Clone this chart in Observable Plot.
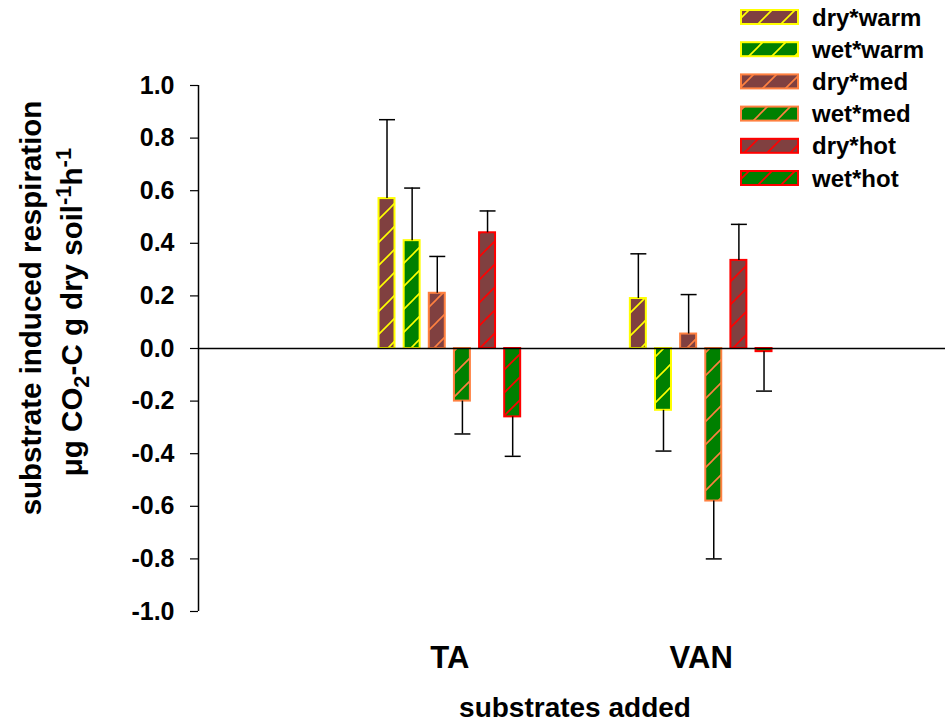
<!DOCTYPE html>
<html>
<head>
<meta charset="utf-8">
<script src="https://cdn.jsdelivr.net/npm/d3@7"></script>
<script src="https://cdn.jsdelivr.net/npm/@observablehq/plot@0.6"></script>
<style>
  html, body { margin: 0; padding: 0; background: #fff; }
  #chart { width: 945px; height: 727px; }
  svg text { font-family: Arial, "Liberation Sans", sans-serif; font-weight: bold; fill: #000; }
</style>
</head>
<body>
<div id="chart"></div>
<script>
// ---- data ----
const substrates = ["TA", "VAN"];
const series = ["dry*warm", "wet*warm", "dry*med", "wet*med", "dry*hot", "wet*hot"];
const meansTA  = [0.57, 0.41, 0.21, -0.20, 0.44, -0.26];
const errTA    = [0.30, 0.20, 0.14, 0.125, 0.083, 0.15];
const meansVAN = [0.19, -0.235, 0.055, -0.58, 0.335, -0.012];
const errVAN   = [0.17, 0.155, 0.15, 0.22, 0.137, 0.15];
const yTicks = [-1.0, -0.8, -0.6, -0.4, -0.2, 0.0, 0.2, 0.4, 0.6, 0.8, 1.0];

// ---- styles ----
const fillColors = ["#804040", "#008000", "#804040", "#008000", "#804040", "#008000"];
const lineColors = ["#ffff00", "#ffff00", "#ff8040", "#ff8040", "#ff0000", "#ff0000"];

const step = 0.1, barW = 0.0636;
const rows = [];
substrates.forEach((sub, gi) => {
  const m = gi === 0 ? meansTA : meansVAN;
  const e = gi === 0 ? errTA : errVAN;
  series.forEach((s, si) => {
    const c = gi + 1 + (si - 2.5) * step;
    rows.push({sub, series: s, si, mean: m[si], se: e[si], c,
      xa: c - barW / 2, xb: c + barW / 2,
      tip: m[si] + Math.sign(m[si]) * e[si]});
  });
});

const svg = Plot.plot({
  width: 945, height: 727,
  marginLeft: 198, marginRight: 0, marginTop: 85, marginBottom: 116,
  x: {domain: [0, 2.972], axis: null},
  y: {domain: [-1, 1], axis: null},
  marks: [
    ...series.map((s, si) => Plot.rect(rows.filter(r => r.si === si), {
      x1: "xa", x2: "xb", y1: 0, y2: "mean",
      fill: `url(#hatch${si})`, stroke: lineColors[si], strokeWidth: 2
    })),
    Plot.ruleY([0], {stroke: "#000", strokeWidth: 1.5}),
    Plot.ruleX(rows, {x: "c", y1: "mean", y2: "tip", stroke: "#000", strokeWidth: 1.5}),
    Plot.link(rows, {x1: "xa", x2: "xb", y1: "tip", y2: "tip", stroke: "#000", strokeWidth: 1.5}),
    Plot.ruleX([0], {y1: -1, y2: 1, stroke: "#000", strokeWidth: 1.5}),
    Plot.axisY({ticks: yTicks, tickFormat: d => d.toFixed(1), tickSize: 8, tickPadding: 16,
      fontSize: 25, label: null, stroke: "#000", strokeWidth: 1.2}),
    Plot.axisX({ticks: [1, 2], tickFormat: d => substrates[d - 1], tickSize: 0, tickPadding: 34,
      fontSize: 31, label: null})
  ]
});

document.getElementById("chart").appendChild(svg);
const S = d3.select(svg);

// hatch patterns
const defs = S.insert("defs", ":first-child");
series.forEach((s, si) => {
  const p = defs.append("pattern").attr("id", `hatch${si}`)
    .attr("patternUnits", "userSpaceOnUse").attr("width", 23).attr("height", 23);
  p.append("rect").attr("width", 23).attr("height", 23).attr("fill", fillColors[si]);
  p.append("path").attr("d", "M0,23 L23,0 M-6,6 L6,-6 M17,29 L29,17")
    .attr("stroke", lineColors[si]).attr("stroke-width", 1.6);
});

// y title
S.append("text").attr("transform", "translate(41,308) rotate(-90)")
  .attr("text-anchor", "middle").attr("font-size", 29.5)
  .text("substrate induced respiration");
const t2 = S.append("text").attr("transform", "translate(82,312) rotate(-90)")
  .attr("text-anchor", "middle").attr("font-size", 29.5);
t2.append("tspan").text("\u03bcg CO");
t2.append("tspan").attr("font-size", 22).attr("dy", 7).text("2");
t2.append("tspan").attr("dy", -7).text("-C g dry soil");
t2.append("tspan").attr("font-size", 22).attr("dy", -11).text("-1");
t2.append("tspan").attr("dy", 11).text("h");
t2.append("tspan").attr("font-size", 22).attr("dy", -11).text("-1");

// x title
S.append("text").attr("x", 575).attr("y", 717).attr("text-anchor", "middle")
  .attr("font-size", 28).text("substrates added");

// legend
series.forEach((s, si) => {
  const cy = 17 + si * 32.2;
  S.append("rect").attr("x", 741).attr("y", cy - 7).attr("width", 57).attr("height", 14)
    .attr("fill", `url(#hatch${si})`).attr("stroke", lineColors[si]).attr("stroke-width", 2);
  S.append("text").attr("x", 812).attr("y", cy + 8.5).attr("text-anchor", "start")
    .attr("font-size", 24).text(s);
});
</script>
</body>
</html>
